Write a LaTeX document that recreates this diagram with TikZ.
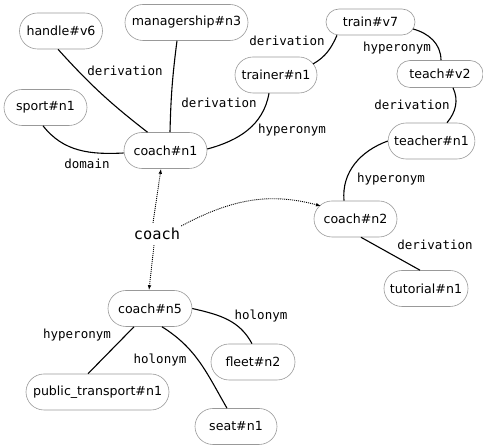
\documentclass[tikz,border=0pt]{standalone}
\usepackage{fontspec}
\setmainfont{DejaVu Sans}
\newfontfamily\monof{DejaVu Sans Mono}
\usetikzlibrary{arrows.meta}
\begin{document}
\begin{tikzpicture}[x=1pt,y=1pt,
 syn/.style={draw=black!40, line width=0.6pt, rounded corners=18pt, minimum height=36pt,
   minimum width=83pt, inner xsep=6pt, font=\fontsize{12.6}{14}\selectfont},
 synsmall/.style={syn, rounded corners=13pt, minimum height=26pt},
 lab/.style={font=\monof\fontsize{12.5}{14}\selectfont, inner sep=0pt},
 rel/.style={line width=1.1pt},
 sense/.style={line width=0.9pt, dash pattern=on 1pt off 1pt, -{Latex[length=5pt,width=3.6pt]}}
]
\path[use as bounding box] (0,0) rectangle (483,447);

% synset nodes
\node[syn] (handle) at (61,416) {handle\#v6};
\node[syn, minimum width=123pt] (manag) at (186.5,424.5) {managership\#n3};
\node[syn] (sport) at (45.5,339.5) {sport\#n1};
\node[syn] (c1) at (165.5,296.5) {coach\#n1};
\node[syn, minimum width=82pt] (trainer) at (276,372) {trainer\#n1};
\node[synsmall, minimum width=89pt] (train) at (370.5,425) {train\#v7};
\node[synsmall, minimum width=86pt, minimum height=27pt] (teach) at (440,373) {teach\#v2};
\node[syn] (teacher) at (431.5,306) {teacher\#n1};
\node[syn] (c2) at (355.5,228) {coach\#n2};
\node[syn, minimum width=84pt] (tutorial) at (426,158.5) {tutorial\#n1};
\node[syn, minimum width=84pt] (c5) at (150,138.5) {coach\#n5};
\node[syn, minimum width=143pt] (public) at (97.5,55) {public\_transport\#n1};
\node[syn, minimum width=84pt] (fleet) at (253,85) {fleet\#n2};
\node[syn, minimum width=82pt] (seat) at (236,20.5) {seat\#n1};
\node[font=\monof\fontsize{15.3}{17}\selectfont, inner sep=0pt] (word) at (157,213) {coach};

% relation edges
\draw[rel] ([xshift=-3pt]handle.south) to[bend right=5] ([shift={(-18pt,0pt)}]c1.north);
\draw[rel] ([xshift=-9.5pt]manag.south) to[bend right=3] ([xshift=4.5pt]c1.north);
\draw[rel] ([xshift=-2.5pt]sport.south) to[out=-52, in=183] ([yshift=-2.5pt]c1.west);
\draw[rel] ([xshift=-7pt]trainer.south) to[out=-100, in=15] ([yshift=1.5pt]c1.east);
\draw[rel] ([xshift=-33.5pt]train.south) to[out=-114, in=30] ([shift={(37pt,11pt)}]trainer.center);
\draw[rel] ([shift={(42.5pt,-7pt)}]train.center) to[out=-15, in=90] ([xshift=1pt]teach.north);
\draw[rel] ([xshift=13pt]teach.south) to[out=-65, in=50] ([xshift=15.5pt]teacher.north);
\draw[rel] (teacher.west) to[out=200, in=95] ([xshift=-11.5pt]c2.north);
\draw[rel] ([xshift=5.5pt]c2.south) -- ([xshift=-6pt]tutorial.north);
\draw[rel] ([xshift=-16pt]c5.south) -- ([xshift=-9.5pt]public.north);
\draw[rel] ([xshift=12pt]c5.south) to[out=-32, in=120] ([xshift=-9pt]seat.north);
\draw[rel] (c5.east) to[out=-13, in=118] ([xshift=-1pt]fleet.north);

% sense arrows
\draw[sense] ([shift={(-4pt,5pt)}]word.north) -- ([xshift=-4.5pt]c1.south);
\draw[sense] ([shift={(-3pt,-5pt)}]word.south) -- ([xshift=-1pt]c5.north);
\draw[sense] ([shift={(1pt,8pt)}]word.east) to[out=28, in=165] ([shift={(-34.5pt,13pt)}]c2.center);

% relation labels
\node[lab] (l1) at (125,376) {derivation};
\node[lab] (l2) at (219,344) {derivation};
\node[lab] (l3) at (87,283) {domain};
\node[lab] (l4) at (292,317) {hyperonym};
\node[lab] (l5) at (287,406) {derivation};
\node[lab] (l6) at (397,399) {hyperonym};
\node[lab] (l7) at (412,342) {derivation};
\node[lab] (l8) at (391,268) {hyperonym};
\node[lab] (l9) at (435,202) {derivation};
\node[lab] (l10) at (261,131) {holonym};
\node[lab] (l11) at (77,112) {hyperonym};
\node[lab] (l12) at (160,87) {holonym};
\end{tikzpicture}
\end{document}
